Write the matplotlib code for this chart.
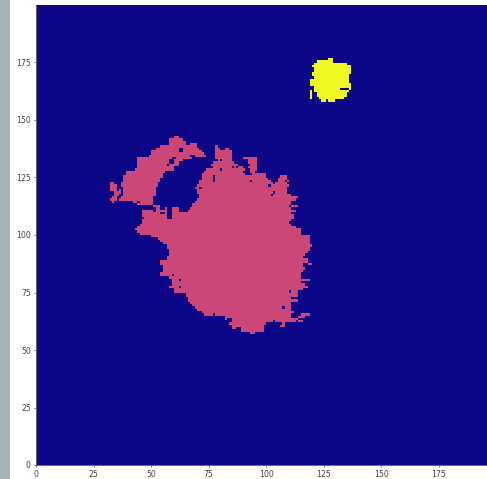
import matplotlib
matplotlib.use("Agg")
import matplotlib.pyplot as plt
from matplotlib.patches import Rectangle
import numpy as np

# class map, kept as runs per row: (row, first col, end col)
N_ROWS = 200
N_COLS = 196

arc_runs = [
    (142, 60, 62), (141, 58, 64), (140, 58, 65), (139, 58, 65), (139, 67, 70),
    (138, 54, 70), (137, 52, 62), (137, 64, 71), (136, 50, 62), (136, 64, 72),
    (135, 50, 73), (134, 49, 67), (134, 69, 74), (133, 44, 59), (133, 61, 68),
    (132, 44, 58), (132, 60, 64), (131, 44, 58), (131, 60, 62), (130, 44, 57),
    (130, 58, 62), (129, 44, 57), (129, 57, 60), (128, 43, 57), (128, 57, 60),
    (127, 39, 56), (126, 39, 55), (125, 38, 55), (124, 38, 54), (123, 38, 54),
    (122, 32, 34), (122, 37, 53), (121, 32, 35), (121, 37, 53), (120, 32, 35),
    (120, 38, 52), (119, 32, 35), (119, 36, 37), (119, 38, 52), (118, 34, 37),
    (118, 38, 52), (117, 34, 36), (117, 38, 52), (116, 33, 35), (116, 37, 51),
    (115, 32, 35), (115, 36, 51), (114, 33, 34), (114, 42, 44), (114, 45, 51),
    (113, 44, 49), (113, 49, 51), (112, 51, 54), (111, 52, 54), (111, 56, 57),
    (111, 59, 62), (110, 46, 51), (110, 52, 57), (110, 59, 62), (109, 46, 54),
    (109, 56, 57),
]

body_rows = [138, 137, 137, 136, 135, 134, 133, 133, 132, 132, 131, 131, 130, 130,
             129, 129, 128, 128, 127, 127, 126, 126, 125, 125, 124, 124, 123, 123,
             122, 121, 120, 119, 118, 117, 116, 115, 114, 113, 112, 112, 111, 110,
             109, 108, 108, 107, 107, 106, 105, 104, 103, 102, 101, 100, 99, 98, 97,
             96, 95, 94, 93, 92, 91, 90, 89, 88, 87, 86, 85, 84, 83, 82, 81, 80, 79,
             78, 77, 76, 75, 74, 73, 72, 71, 70, 69, 68, 67, 66, 65, 65, 64, 64, 63,
             62, 62, 62, 61, 61, 60, 60, 59, 58, 57]
body_start = [78, 78, 82, 78, 78, 78, 78, 90, 79, 92, 77, 92, 76, 93,
              77, 92, 74, 93, 73, 93, 72, 94, 72, 106, 72, 105, 71, 104,
              71, 70, 69, 70, 70, 71, 71, 70, 69, 68, 68, 111, 67, 66,
              59, 46, 59, 47, 59, 46, 46, 45, 44, 43, 44, 45, 50, 53, 54,
              55, 57, 57, 58, 58, 58, 57, 57, 54, 54, 55, 55, 55, 54, 54, 58, 59, 59,
              59, 58, 60, 60, 65, 65, 66, 66, 67, 68, 69, 70, 72, 73, 115, 82, 114, 82,
              83, 104, 114, 84, 107, 85, 106, 85, 89, 93]
body_end = [79, 80, 84, 85, 85, 85, 85, 96, 85, 96, 86, 96, 88, 96,
            90, 96, 91, 96, 91, 95, 91, 100, 100, 109, 101, 109, 102, 110,
            109, 110, 109, 109, 109, 111, 114, 113, 111, 111, 110, 114, 111, 114,
            111, 57, 112, 57, 112, 111, 110, 113, 113, 115, 115, 115, 119, 119, 119,
            120, 120, 119, 119, 118, 118, 117, 118, 118, 120, 118, 117, 116, 115, 115, 115, 119, 117,
            117, 118, 117, 114, 114, 114, 111, 114, 111, 111, 111, 111, 112, 111, 119, 111, 117, 114,
            103, 113, 116, 100, 109, 99, 109, 99, 99, 95]

# navy cells left inside the pink region
hole_cols = [77, 77, 77, 71, 85, 87, 90, 80, 80, 93, 101, 103, 104, 102, 103, 108,
             111, 113, 119, 117, 116, 110, 107, 62, 62, 59, 61, 77, 116, 117, 116, 117,
             115, 116, 117, 116, 111, 112, 108, 108, 87, 88, 83, 84, 83, 84, 59]
hole_rows = [125, 124, 123, 120, 129, 129, 127, 132, 128, 123, 121, 122, 123, 117, 118, 123,
             111, 110, 96, 91, 90, 75, 68, 80, 77, 82, 74, 65, 87, 87, 86, 86,
             79, 79, 79, 76, 104, 104, 61, 60, 59, 59, 63, 63, 62, 62, 76]

yellow_runs = [
    (176, 127, 129), (175, 122, 129), (174, 121, 135), (173, 120, 137), (172, 121, 137),
    (171, 121, 137), (170, 120, 137), (169, 120, 136), (168, 121, 136), (167, 119, 136),
    (166, 119, 136), (165, 119, 137), (164, 121, 137), (163, 121, 132), (163, 136, 137),
    (162, 119, 120), (162, 121, 136), (161, 119, 120), (161, 122, 135), (160, 119, 120),
    (160, 122, 135), (159, 119, 120), (159, 123, 134), (158, 124, 126), (158, 127, 130),
]

x_ticks = [0, 25, 50, 75, 100, 125, 150, 175]
y_ticks = [0, 25, 50, 75, 100, 125, 150, 175]

labels = np.zeros((N_ROWS, N_COLS))
for r, a, b in arc_runs:
    labels[r, a:b] = 1
for r, a, b in zip(body_rows, body_start, body_end, strict=True):
    labels[r, a:b] = 1
for r, c in zip(hole_rows, hole_cols, strict=True):
    labels[r, c] = 0
for r, a, b in yellow_runs:
    labels[r, a:b] = 2

fig = plt.figure(figsize=(4.87, 4.79), dpi=100)
fig.patches.append(Rectangle((0, 0), 10 / 487, 1, transform=fig.transFigure,
                             facecolor="#a3b3b6", edgecolor="none"))
ax = fig.add_axes([36 / 487, 14 / 479, 451 / 487, 460 / 479])
ax.imshow(labels, cmap="plasma", origin="lower", aspect="auto",
          interpolation="nearest", extent=(0, N_COLS, 0, N_ROWS))
ax.set_xticks(x_ticks)
ax.set_yticks(y_ticks)
ax.tick_params(labelsize=5.6, length=1.7, width=0.5, pad=2, colors="#444444")
for s in ["top", "right"]:
    ax.spines[s].set_visible(False)
for s in ["left", "bottom"]:
    ax.spines[s].set_linewidth(0.7)
    ax.spines[s].set_color("#666666")

fig.savefig("out.png", dpi=100)
